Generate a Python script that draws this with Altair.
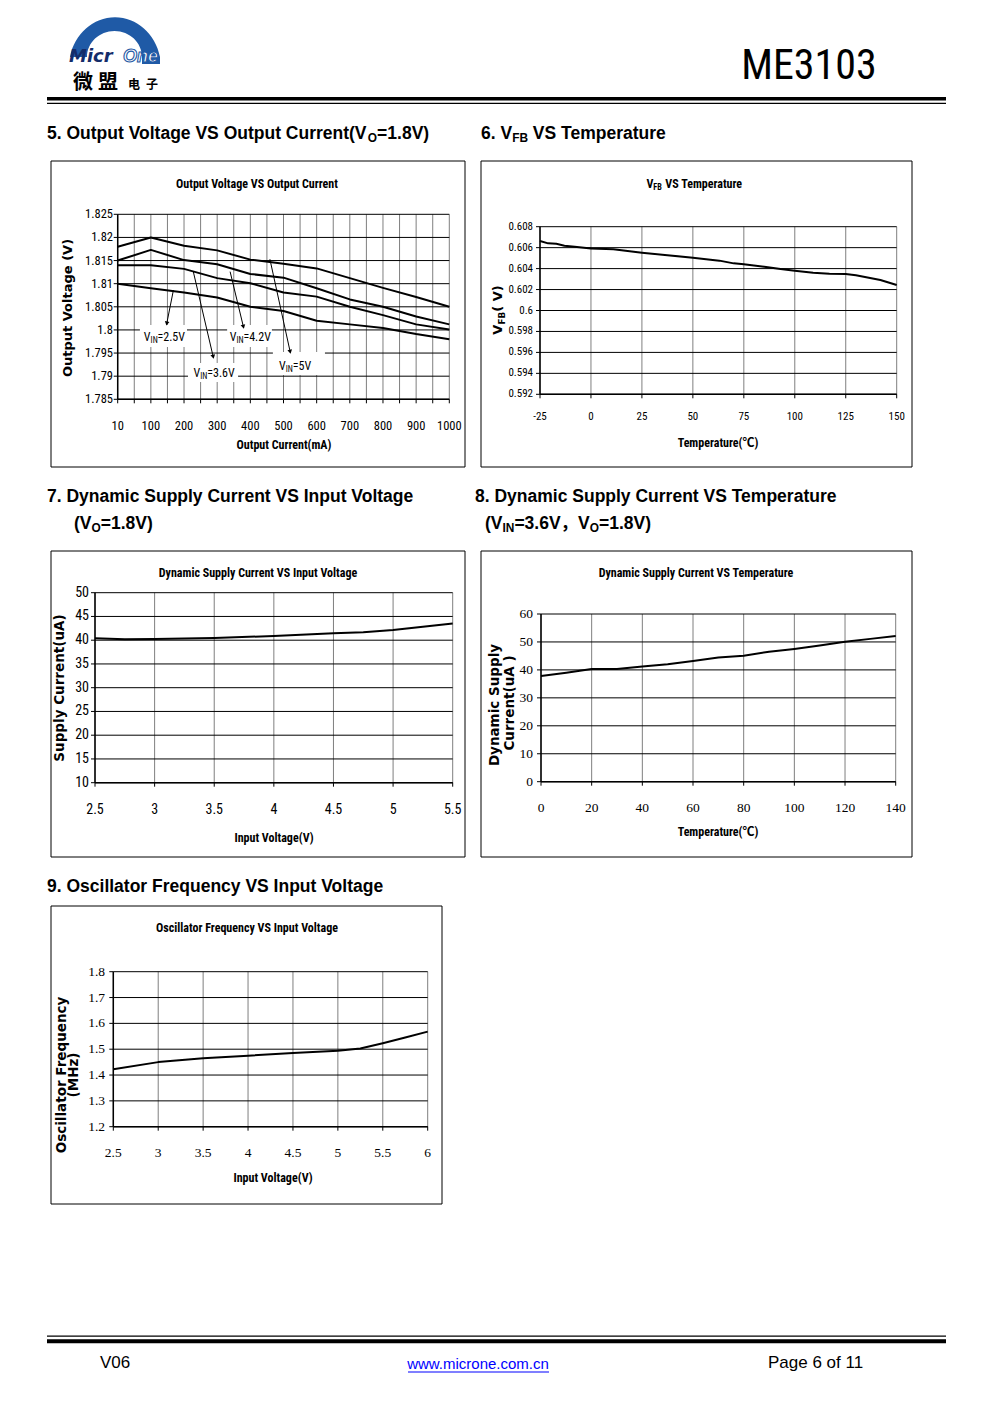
import altair as alt
import pandas as pd

OFF = 8  # page margin around the vega canvas

# ------------------------------------------------------------------ data
# 5. Output voltage vs output current (category axis)
c5_current = [10, 100, 200, 300, 400, 500, 600, 700, 800, 900, 1000]
c5_vin_5v = [1.8180, 1.8200, 1.8182, 1.8172, 1.8152, 1.8143, 1.8133, 1.8112, 1.8091, 1.8071, 1.8050]
c5_vin_42v = [1.8150, 1.8173, 1.8151, 1.8142, 1.8121, 1.8113, 1.8090, 1.8066, 1.8050, 1.8029, 1.8012]
c5_vin_36v = [1.8140, 1.8140, 1.8132, 1.8112, 1.8101, 1.8081, 1.8072, 1.8050, 1.8032, 1.8012, 1.8001]
c5_vin_25v = [1.8100, 1.8090, 1.8081, 1.8070, 1.8050, 1.8041, 1.8020, 1.8012, 1.8004, 1.7991, 1.7980]
c5_y_ticks = [1.785, 1.79, 1.795, 1.8, 1.805, 1.81, 1.815, 1.82, 1.825]
c5_y_labels = ["1.785", "1.79", "1.795", "1.8", "1.805", "1.81", "1.815", "1.82", "1.825"]
c5_x_grid = [0, 0.5, 1, 1.5, 2, 2.5, 3, 3.5, 4, 4.5, 5, 5.5, 6, 6.5, 7, 7.5, 8, 8.5, 9, 9.5, 10]
# annotation: (label, x-index, value)
c5_labels = [("2.5V", 1.40, 1.79847), ("3.6V", 2.90, 1.79069), ("4.2V", 3.99, 1.79847), ("5V", 5.35, 1.79220)]
c5_label_boxes = [(0.67, 2.09, 1.80107, 1.79631), (2.12, 3.63, 1.79285, 1.78874),
                  (3.30, 4.65, 1.80107, 1.79631), (4.68, 6.25, 1.79523, 1.79026)]
c5_arrows = [(1.68, 1.8086, 1.48, 1.8014, 191), (2.28, 1.8126, 2.88, 1.7942, 167),
             (3.39, 1.8126, 3.79, 1.8007, 166), (4.59, 1.8153, 5.20, 1.7953, 168)]

# 6. VFB vs temperature
c6_temp = [-25, -21, -17, -13, -8, 0, 11, 25, 35, 50, 63, 70, 75, 85, 93, 100, 109, 117, 125, 130, 142, 150]
c6_vfb = [0.60663, 0.60641, 0.60638, 0.60619, 0.60609, 0.60593, 0.60584, 0.60552, 0.60533, 0.60504, 0.60476,
          0.60450, 0.60441, 0.60418, 0.60396, 0.60380, 0.60361, 0.60351, 0.60348, 0.60336, 0.60291, 0.60243]
c6_x_ticks = [-25, 0, 25, 50, 75, 100, 125, 150]
c6_y_ticks = [0.592, 0.594, 0.596, 0.598, 0.6, 0.602, 0.604, 0.606, 0.608]
c6_y_labels = ["0.592", "0.594", "0.596", "0.598", "0.6", "0.602", "0.604", "0.606", "0.608"]

# 7. Dynamic supply current vs input voltage
c7_vin = [2.5, 2.75, 3.0, 3.5, 4.0, 4.5, 4.75, 5.0, 5.25, 5.5]
c7_current = [40.39, 40.18, 40.25, 40.46, 40.88, 41.44, 41.65, 42.14, 42.84, 43.54]
c7_x_ticks = [2.5, 3, 3.5, 4, 4.5, 5, 5.5]
c7_x_labels = ["2.5", "3", "3.5", "4", "4.5", "5", "5.5"]
c7_y_ticks = [10, 15, 20, 25, 30, 35, 40, 45, 50]

# 8. Dynamic supply current vs temperature
c8_temp = [0, 10, 20, 30, 40, 50, 60, 70, 80, 90, 100, 110, 120, 130, 140]
c8_current = [37.8, 39.0, 40.3, 40.3, 41.2, 42.0, 43.2, 44.4, 45.1, 46.5, 47.5, 48.7, 50.1, 51.1, 52.1]
c8_x_ticks = [0, 20, 40, 60, 80, 100, 120, 140]
c8_y_ticks = [0, 10, 20, 30, 40, 50, 60]

# 9. Oscillator frequency vs input voltage
c9_vin = [2.5, 3.0, 3.5, 4.0, 4.5, 5.0, 5.25, 5.5, 5.75, 6.0]
c9_freq = [1.422, 1.450, 1.4645, 1.475, 1.485, 1.494, 1.503, 1.523, 1.545, 1.568]
c9_x_ticks = [2.5, 3, 3.5, 4, 4.5, 5, 5.5, 6]
c9_x_labels = ["2.5", "3", "3.5", "4", "4.5", "5", "5.5", "6"]
c9_y_ticks = [1.2, 1.3, 1.4, 1.5, 1.6, 1.7, 1.8]
c9_y_labels = ["1.2", "1.3", "1.4", "1.5", "1.6", "1.7", "1.8"]

# ------------------------------------------------------------------ fonts / metrics
NARROW = ("Roboto Condensed, Liberation Sans Narrow, Noto Sans Condensed, Arial Narrow, "
          "Noto Sans CJK SC, sans-serif")
SANS = "Liberation Sans, Arial, Noto Sans CJK SC, sans-serif"
DEJAVU = "DejaVu Sans, sans-serif"
SERIF = "Liberation Serif, DejaVu Serif, serif"
CJK = "Noto Sans CJK SC, sans-serif"
NARROW_K = 0.85  # width factor of the narrow face relative to Arial

_AR = {' ': 278, '(': 333, ')': 333, ',': 278, '.': 278, '=': 584, '-': 333,
       'A': 667, 'B': 667, 'C': 722, 'D': 722, 'E': 667, 'F': 611, 'G': 778, 'H': 722, 'I': 278, 'J': 500,
       'K': 667, 'L': 556, 'M': 833, 'N': 722, 'O': 778, 'P': 667, 'Q': 778, 'R': 722, 'S': 667, 'T': 611,
       'U': 722, 'V': 667, 'W': 944, 'X': 667, 'Y': 667, 'Z': 611,
       'a': 556, 'b': 556, 'c': 500, 'd': 556, 'e': 556, 'f': 278, 'g': 556, 'h': 556, 'i': 222, 'j': 222,
       'k': 500, 'l': 222, 'm': 833, 'n': 556, 'o': 556, 'p': 556, 'q': 556, 'r': 333, 's': 500, 't': 278,
       'u': 556, 'v': 500, 'w': 722, 'x': 500, 'y': 500, 'z': 500}
for _d in "0123456789":
    _AR[_d] = 556
_AB = dict(_AR)
_AB.update({'A': 722, 'B': 722, 'J': 556, 'K': 722, 'L': 611,
            'b': 611, 'c': 556, 'd': 611, 'f': 333, 'g': 611, 'h': 611, 'i': 278, 'j': 278, 'k': 556,
            'l': 278, 'm': 889, 'n': 611, 'o': 611, 'p': 611, 'q': 611, 'r': 389, 's': 556, 't': 333,
            'u': 611, 'v': 556, 'w': 778, 'x': 556, 'y': 556})
_DB = {'V': 774, 'F': 683, 'B': 762, '(': 457, ')': 457, ' ': 348}

DUMMY = pd.DataFrame({'d': [0]})


def twidth(s, table):
    return sum(table.get(c, 1000 if ord(c) > 0x2E7F else 556) for c in s) / 1000.0


def ptext(s, x, y, size, font=NARROW, weight='normal', align='center', angle=None, color='black', **kw):
    m = dict(text=s, font=font, fontSize=size, fontWeight=weight, align=align,
             baseline='middle', color=color, **kw)
    if angle is not None:
        m['angle'] = angle
    return alt.Chart(DUMMY).mark_text(**m).encode(x=alt.value(x - OFF), y=alt.value(y - OFF))


def rich(pieces, size, font, weight, table, narrow=1.0, align='left', angle=None,
         page_xy=None, data=None, xenc=None, yenc=None, sub_ratio=0.68, color='black'):
    segs, cur = [], 0.0
    for s, sub in pieces:
        fs = size * sub_ratio if sub else size
        lead = len(s) - len(s.lstrip(' '))
        cur += twidth(' ' * lead, table) * fs * narrow
        body = s.lstrip(' ')
        segs.append((body, cur, fs, sub))
        cur += twidth(body, table) * fs * narrow
    start = {'left': 0.0, 'center': -cur / 2.0, 'right': -cur}[align]
    out = []
    for s, off, fs, sub in segs:
        m = dict(text=s, font=font, fontSize=fs, fontWeight=weight, align='left',
                 baseline='alphabetic', dx=start + off,
                 dy=0.32 * size + (0.2 * size if sub else 0.0), color=color)
        if angle is not None:
            m['angle'] = angle
        if data is None:
            out.append(alt.Chart(DUMMY).mark_text(**m).encode(
                x=alt.value(page_xy[0] - OFF), y=alt.value(page_xy[1] - OFF)))
        else:
            out.append(alt.Chart(data).mark_text(**m).encode(x=xenc, y=yenc))
    return out


def prect(x0, y0, x1, y1, **kw):
    return alt.Chart(DUMMY).mark_rect(**kw).encode(
        x=alt.value(x0 - OFF), x2=alt.value(x1 - OFF), y=alt.value(y0 - OFF), y2=alt.value(y1 - OFF))


def scales(xdom, ydom, xpx, ypx):
    xs = alt.Scale(domain=list(xdom), range=[xpx[0] - OFF, xpx[1] - OFF], nice=False, zero=False)
    ys = alt.Scale(domain=list(ydom), range=[ypx[1] - OFF, ypx[0] - OFF], nice=False, zero=False)

    def X(f):
        return alt.X(f, type='quantitative', scale=xs, axis=None)

    def Y(f):
        return alt.Y(f, type='quantitative', scale=ys, axis=None)
    return X, Y


def frame(X, Y, xdom, ydom, xpx, ypx, xgrid, ygrid, xt_vals, xt_txt, yt_vals, yt_txt,
          tfont, tsize, xlab_y, ylab_x):
    left = xpx[0] - OFF
    bottom = ypx[1] - OFF
    vg = pd.DataFrame({'gx': xgrid})
    vg['g0'] = ydom[0]
    vg['g1'] = ydom[1]
    hg = pd.DataFrame({'gy': ygrid})
    hg['g0'] = xdom[0]
    hg['g1'] = xdom[1]
    ax_v = pd.DataFrame({'a': [xdom[0]], 'g0': [ydom[0]], 'g1': [ydom[1]]})
    ax_h = pd.DataFrame({'a': [ydom[0]], 'g0': [xdom[0]], 'g1': [xdom[1]]})
    xl = pd.DataFrame({'v': xt_vals, 't': xt_txt})
    yl = pd.DataFrame({'v': yt_vals, 't': yt_txt})
    return [
        alt.Chart(vg).mark_rule(color='#7f7f7f', strokeWidth=1).encode(x=X('gx'), y=Y('g0'), y2='g1'),
        alt.Chart(hg).mark_rule(color='black', strokeWidth=1).encode(y=Y('gy'), x=X('g0'), x2='g1'),
        alt.Chart(ax_v).mark_rule(color='black', strokeWidth=1.5).encode(x=X('a'), y=Y('g0'), y2='g1'),
        alt.Chart(ax_h).mark_rule(color='black', strokeWidth=1.5).encode(y=Y('a'), x=X('g0'), x2='g1'),
        alt.Chart(pd.DataFrame({'t': ygrid})).mark_rule(color='black').encode(
            y=Y('t'), x=alt.value(left - 4), x2=alt.value(left)),
        alt.Chart(pd.DataFrame({'t': xgrid})).mark_rule(color='black').encode(
            x=X('t'), y=alt.value(bottom), y2=alt.value(bottom + 4)),
        alt.Chart(xl).mark_text(font=tfont, fontSize=tsize, align='center', baseline='middle').encode(
            x=X('v'), y=alt.value(xlab_y - OFF), text='t:N'),
        alt.Chart(yl).mark_text(font=tfont, fontSize=tsize, align='right', baseline='middle').encode(
            y=Y('v'), x=alt.value(ylab_x - OFF), text='t:N'),
    ]


def line(df, X, Y, xf, yf, detail=None):
    enc = dict(x=X(xf), y=Y(yf))
    if detail:
        enc['detail'] = alt.Detail(detail, type='nominal')
    return alt.Chart(df).mark_line(color='black', strokeWidth=2, strokeJoin='round').encode(**enc)


# ------------------------------------------------------------------ panel 5
p5_x = (117.7, 449.3)
p5_y = (214.3, 399.3)
X5, Y5 = scales((0, 10), (1.785, 1.825), p5_x, p5_y)
rows5 = []
for name, vals in [("VIN=5V", c5_vin_5v), ("VIN=4.2V", c5_vin_42v), ("VIN=3.6V", c5_vin_36v), ("VIN=2.5V", c5_vin_25v)]:
    for i, (cur, v) in enumerate(zip(c5_current, vals)):
        rows5.append({'pos': i, 'current': cur, 'vout': v, 'series': name})
df5 = pd.DataFrame(rows5)
p5 = frame(X5, Y5, (0, 10), (1.785, 1.825), p5_x, p5_y, c5_x_grid, c5_y_ticks,
           list(range(len(c5_current))), [str(c) for c in c5_current], c5_y_ticks, c5_y_labels,
           NARROW, 12.5, 426, 113)
boxes5 = pd.DataFrame(c5_label_boxes, columns=['x0', 'x1', 'y0', 'y1'])
p5.append(alt.Chart(boxes5).mark_rect(color='white').encode(x=X5('x0'), x2='x1', y=Y5('y0'), y2='y1'))
p5.append(line(df5, X5, Y5, 'pos', 'vout', 'series'))
arr5 = pd.DataFrame([a[:4] for a in c5_arrows], columns=['ax', 'ay', 'bx', 'by'])
p5.append(alt.Chart(arr5).mark_rule(color='black', strokeWidth=1).encode(
    x=X5('ax'), y=Y5('ay'), x2='bx', y2='by'))
for a in c5_arrows:
    p5.append(alt.Chart(pd.DataFrame({'bx': [a[2]], 'by': [a[3]]})).mark_point(
        shape='triangle-up', filled=True, size=22, color='black', opacity=1, angle=a[4]).encode(
        x=X5('bx'), y=Y5('by')))
for lab, lx, ly in c5_labels:
    ldf = pd.DataFrame({'lx': [lx], 'ly': [ly]})
    p5 += rich([("V", False), ("IN", True), ("=" + lab, False)], 12, NARROW, 'normal', _AR,
               narrow=NARROW_K, align='center', data=ldf, xenc=X5('lx'), yenc=Y5('ly'))
panel5 = alt.layer(*p5)

# ------------------------------------------------------------------ panel 6
p6_x = (540.0, 896.7)
p6_y = (226.7, 394.3)
X6, Y6 = scales((-25, 150), (0.592, 0.608), p6_x, p6_y)
df6 = pd.DataFrame({'temp': c6_temp, 'vfb': c6_vfb})
p6 = frame(X6, Y6, (-25, 150), (0.592, 0.608), p6_x, p6_y, c6_x_ticks, c6_y_ticks,
           c6_x_ticks, [str(t) for t in c6_x_ticks], c6_y_ticks, c6_y_labels, NARROW, 11, 417, 533)
p6.append(line(df6, X6, Y6, 'temp', 'vfb'))
panel6 = alt.layer(*p6)

# ------------------------------------------------------------------ panel 7
p7_x = (95.0, 452.7)
p7_y = (592.7, 782.7)
X7, Y7 = scales((2.5, 5.5), (10, 50), p7_x, p7_y)
df7 = pd.DataFrame({'vin': c7_vin, 'icc': c7_current})
p7 = frame(X7, Y7, (2.5, 5.5), (10, 50), p7_x, p7_y, c7_x_ticks, c7_y_ticks,
           c7_x_ticks, c7_x_labels, c7_y_ticks, [str(v) for v in c7_y_ticks], NARROW, 14, 810, 89)
p7.append(line(df7, X7, Y7, 'vin', 'icc'))
panel7 = alt.layer(*p7)

# ------------------------------------------------------------------ panel 8
p8_x = (541.0, 895.7)
p8_y = (614.0, 781.7)
X8, Y8 = scales((0, 140), (0, 60), p8_x, p8_y)
df8 = pd.DataFrame({'temp': c8_temp, 'icc': c8_current})
p8 = frame(X8, Y8, (0, 140), (0, 60), p8_x, p8_y, c8_x_ticks, c8_y_ticks,
           c8_x_ticks, [str(v) for v in c8_x_ticks], c8_y_ticks, [str(v) for v in c8_y_ticks],
           SERIF, 13.5, 808, 533)
p8.append(line(df8, X8, Y8, 'temp', 'icc'))
panel8 = alt.layer(*p8)

# ------------------------------------------------------------------ panel 9
p9_x = (113.3, 427.7)
p9_y = (971.7, 1126.7)
X9, Y9 = scales((2.5, 6), (1.2, 1.8), p9_x, p9_y)
df9 = pd.DataFrame({'vin': c9_vin, 'freq': c9_freq})
p9 = frame(X9, Y9, (2.5, 6), (1.2, 1.8), p9_x, p9_y, c9_x_ticks, c9_y_ticks,
           c9_x_ticks, c9_x_labels, c9_y_ticks, c9_y_labels, SERIF, 13.5, 1153, 105)
p9.append(line(df9, X9, Y9, 'vin', 'freq'))
panel9 = alt.layer(*p9)

# ------------------------------------------------------------------ page decorations
deco = []
for bx in [(51, 161, 465, 467), (481, 161, 912, 467), (51, 551, 465, 857), (481, 551, 912, 857), (51, 906, 442, 1204)]:
    deco.append(prect(*bx, fill='white', stroke='black', strokeWidth=1))
deco.append(prect(47, 97, 946, 100.5, color='black'))
deco.append(prect(47, 102.7, 946, 103.9, color='black'))
deco.append(prect(47, 1335.6, 946, 1336.8, color='black'))
deco.append(prect(47, 1339.2, 946, 1343.2, color='black'))

texts = []
# logo
BLUE = '#1f5aa6'
dome = "M -46 0 A 46 50 0 0 1 44 0 L 44 7 L 26 7 L 26 0 A 27.5 26 0 0 0 -29 0 Z"
texts.append(alt.Chart(DUMMY).mark_point(shape=dome, size=4, filled=True, color=BLUE, opacity=1,
                                         strokeWidth=0).encode(x=alt.value(116 - OFF), y=alt.value(57 - OFF)))
texts.append(ptext("Micr", 69, 57, 18, font=DEJAVU, weight='bold', align='left', fontStyle='italic', color='#142c6a'))
texts.append(ptext("One", 123, 57, 18, font=SANS, weight='bold', align='left', fontStyle='italic',
                   color='white', stroke=BLUE, strokeWidth=1.1))
texts.append(ptext("微", 83, 83, 20, font=CJK, weight='bold'))
texts.append(ptext("盟", 108, 83, 20, font=CJK, weight='bold'))
texts.append(ptext("电", 134, 85, 12, font=CJK, weight='bold'))
texts.append(ptext("子", 152, 85, 12, font=CJK, weight='bold'))
texts.append(ptext("ME3103", 809, 66, 42, font=NARROW))

# section headings
HS = 17.5
texts += rich([("5. Output Voltage VS Output Current(V", False), ("O", True), ("=1.8V)", False)],
              HS, SANS, 'bold', _AB, page_xy=(47, 133))
texts += rich([("6. V", False), ("FB", True), (" VS Temperature", False)], HS, SANS, 'bold', _AB, page_xy=(481, 133))
texts.append(ptext("7. Dynamic Supply Current VS Input Voltage", 47, 497, HS, font=SANS, weight='bold', align='left'))
texts += rich([("(V", False), ("O", True), ("=1.8V)", False)], HS, SANS, 'bold', _AB, page_xy=(74, 523))
texts.append(ptext("8. Dynamic Supply Current VS Temperature", 475, 497, HS, font=SANS, weight='bold', align='left'))
texts += rich([("(V", False), ("IN", True), ("=3.6V，V", False), ("O", True), ("=1.8V)", False)],
              HS, SANS, 'bold', _AB, page_xy=(485, 523))
texts.append(ptext("9. Oscillator Frequency VS Input Voltage", 47, 887, HS, font=SANS, weight='bold', align='left'))

# chart titles & axis titles
TS = 12
YS = 13.5
texts.append(ptext("Output Voltage VS Output Current", 257, 184, TS, weight='bold'))
texts.append(ptext("Output Current(mA)", 284, 445, TS, weight='bold'))
texts.append(ptext("Output Voltage (V)", 68, 308, 13, font=DEJAVU, weight='bold', angle=270))

texts += rich([("V", False), ("FB", True), (" VS Temperature", False)], TS, NARROW, 'bold', _AB,
              narrow=NARROW_K, align='center', page_xy=(695, 184))
texts.append(ptext("Temperature(℃)", 718, 443, TS, weight='bold'))
texts += rich([("V", False), ("FB", True), ("( V)", False)], 13, DEJAVU, 'bold', _DB,
              align='center', angle=270, page_xy=(498, 310))

texts.append(ptext("Dynamic Supply Current VS Input Voltage", 258, 573, TS, weight='bold'))
texts.append(ptext("Input Voltage(V)", 274, 838, TS, weight='bold'))
texts.append(ptext("Supply Current(uA)", 60, 688, YS, font=DEJAVU, weight='bold', angle=270))

texts.append(ptext("Dynamic Supply Current VS Temperature", 696, 573, TS, weight='bold'))
texts.append(ptext("Temperature(℃)", 718, 832, TS, weight='bold'))
texts.append(ptext("Dynamic Supply", 495, 705, YS, font=DEJAVU, weight='bold', angle=270))
texts.append(ptext("Current(uA )", 510, 703, YS, font=DEJAVU, weight='bold', angle=270))

texts.append(ptext("Oscillator Frequency VS Input Voltage", 247, 928, TS, weight='bold'))
texts.append(ptext("Input Voltage(V)", 273, 1178, TS, weight='bold'))
texts.append(ptext("Oscillator Frequency", 62, 1075, YS, font=DEJAVU, weight='bold', angle=270))
texts.append(ptext("(MHz)", 74, 1075, YS, font=DEJAVU, weight='bold', angle=270))

# footer
texts.append(ptext("V06", 100, 1363, 17, font=SANS, align='left'))
texts.append(ptext("www.microne.com.cn", 478, 1364, 15, font=SANS, color='#0000ff'))
texts.append(prect(408, 1371.5, 549, 1372.5, color='#0000ff'))
texts.append(ptext("Page 6 of 11", 768, 1363, 17, font=SANS, align='left'))

chart = alt.layer(*deco, panel5, panel6, panel7, panel8, panel9, *texts).resolve_scale(
    x='independent', y='independent'
).properties(
    width=975, height=1387, padding=0,
    autosize=alt.AutoSizeParams(type='none'),
).configure_view(stroke=None)

chart.save("out.html", embed_options={"renderer": "svg", "actions": False})
